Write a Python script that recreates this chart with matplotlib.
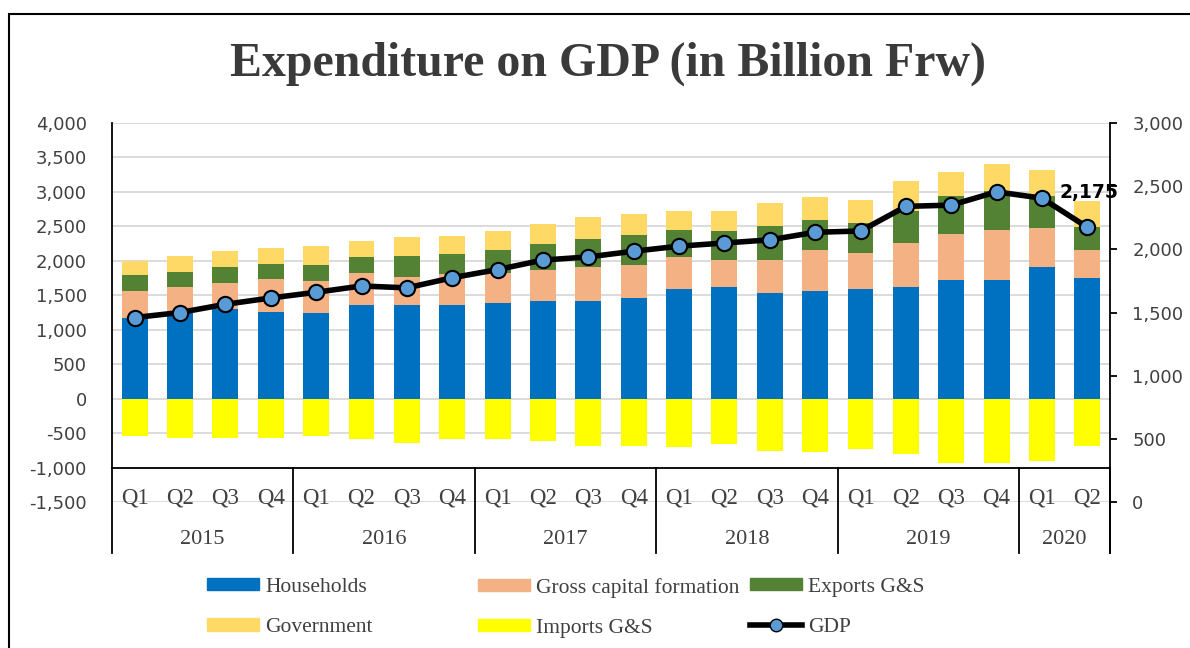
import numpy as np
import matplotlib.pyplot as plt
from matplotlib.patches import Patch, Rectangle
from matplotlib.lines import Line2D


# ========== data (billion Frw) ==========
years = ["2015", "2016", "2017", "2018", "2019", "2020"]
quarters_per_year = [4, 4, 4, 4, 4, 2]
quarters = ["Q1", "Q2", "Q3", "Q4"] * 5 + ["Q1", "Q2"]

households = [1177, 1241, 1303, 1264, 1250, 1366, 1361, 1361,
              1390, 1415, 1415, 1463, 1598, 1623, 1536, 1565,
              1595, 1623, 1725, 1725, 1913, 1754]
gross_capital = [388, 382, 374, 465, 460, 460, 407, 451,
                 426, 451, 498, 475, 451, 382, 479, 586,
                 512, 630, 663, 726, 567, 397]
exports = [222, 218, 227, 228, 233, 233, 301, 281,
           345, 382, 408, 441, 392, 422, 494, 446,
           440, 463, 557, 560, 460, 333]
government = [214, 232, 237, 233, 271, 232, 270, 271,
              271, 291, 310, 300, 289, 303, 330, 322,
              338, 441, 339, 389, 373, 384]
imports = [-538, -567, -567, -567, -547, -586, -644, -586,
           -586, -619, -683, -683, -697, -663, -756, -779,
           -731, -799, -930, -930, -910, -692]
gdp = [1460, 1500, 1565, 1615, 1660, 1710, 1695, 1775,
       1840, 1915, 1940, 1985, 2025, 2050, 2075, 2135,
       2145, 2340, 2350, 2455, 2405, 2175]

# colors
c_house = "#0070c0"
c_gcf = "#f4b183"
c_exp = "#548235"
c_gov = "#ffd966"
c_imp = "#ffff00"
c_gdp = "#5b9bd5"
txt = "#404040"


# ========== figure ==========
fig = plt.figure(figsize=(11.9, 6.48), dpi=100)
ax = fig.add_axes([112 / 1190, 1 - 502 / 648, 998 / 1190, 379 / 648])

x = np.arange(len(quarters))
w = 0.57

# stacked bars
b1 = np.array(households)
b2 = b1 + np.array(gross_capital)
b3 = b2 + np.array(exports)
ax.bar(x, households, w, color=c_house, zorder=2)
ax.bar(x, gross_capital, w, bottom=b1, color=c_gcf, zorder=2)
ax.bar(x, exports, w, bottom=b2, color=c_exp, zorder=2)
ax.bar(x, government, w, bottom=b3, color=c_gov, zorder=2)
ax.bar(x, imports, w, color=c_imp, zorder=2)

ax.set_xlim(-0.5, len(x) - 0.5)
ax.set_ylim(-1500, 4000)
ax.set_yticks(np.arange(-1500, 4001, 500))
ax.set_yticklabels([f"{v:,}" for v in range(-1500, 4001, 500)])
ax.tick_params(axis="y", length=0, pad=18, labelsize=13, labelcolor=txt)
ax.set_xticks([])
ax.grid(axis="y", color="#d9d9d9", lw=1.3, zorder=0)
ax.set_axisbelow(True)
for s in ax.spines.values():
    s.set_visible(False)

# category axis box (two-level labels under the -1000 line)
y_low = -2241
ax.plot([-0.5, len(x) - 0.5], [-1000, -1000], color="black", lw=1.3, clip_on=False, zorder=3)
ax.plot([-0.5, -0.5], [4000, y_low], color="black", lw=1.3, clip_on=False, zorder=3)
ax.plot([len(x) - 0.5, len(x) - 0.5], [4000, y_low], color="black", lw=1.3, clip_on=False, zorder=3)
start = 0
for yr, n in zip(years, quarters_per_year):
    end = start + n
    ax.plot([end - 0.5, end - 0.5], [-1000, y_low], color="black", lw=1.3, clip_on=False, zorder=3)
    ax.text((start + end - 1) / 2, -2050, yr, ha="center", va="center",
            family="Liberation Serif", fontsize=16, color=txt, clip_on=False)
    start = end
for i, q in enumerate(quarters):
    ax.text(i, -1440, q, ha="center", va="center", family="Liberation Serif",
            fontsize=16.5, color=txt, clip_on=False, zorder=4)

# GDP line on secondary axis
ax2 = ax.twinx()
ax2.plot(x, gdp, color="black", lw=4, marker="o", ms=11, mfc=c_gdp,
         mec="black", mew=1.5, zorder=5)
ax2.set_ylim(0, 3000)
ax2.set_yticks(np.arange(0, 3001, 500))
ax2.set_yticklabels([f"{v:,}" for v in range(0, 3001, 500)])
ax2.tick_params(axis="y", length=5, width=1.3, pad=11, labelsize=13, labelcolor=txt)
for s in ax2.spines.values():
    s.set_visible(False)
ax2.annotate(f"{gdp[-1]:,}", (x[-1], gdp[-1]), xytext=(1, 25), textcoords="offset points",
             ha="center", va="center", fontsize=13.5, fontweight="bold", color="black")

# title
fig.text(0.511, 1 - 64 / 648, "Expenditure on GDP (in Billion Frw)", ha="center", va="center",
         family="Liberation Serif", fontweight="bold", fontsize=34.5, color="#3a3a3a")

# legend: three columns, two rows
fs = 15.5
leg_cols = [
    (207, [Patch(color=c_house, label="Households"), Patch(color=c_gov, label="Government")]),
    (478, [Patch(color=c_gcf, label="Gross capital formation"), Patch(color=c_imp, label="Imports G&S")]),
    (750, [Patch(color=c_exp, label="Exports G&S"),
           Line2D([], [], color="black", lw=4, marker="o", ms=9, mfc=c_gdp, mec="black", label="GDP")]),
]
for px, hs in leg_cols:
    fig.legend(handles=hs, loc="upper left", bbox_to_anchor=(px / 1190, 1 - 578 / 648),
               frameon=False, borderpad=0, borderaxespad=0, handlelength=2.4,
               handleheight=0.5, handletextpad=0.3, labelspacing=0.98,
               prop={"family": "Liberation Serif", "size": fs}, labelcolor=txt)

# outer chart frame
fig.patches.append(Rectangle((9 / 1190, -0.1), 1.2, 1.1 - 14 / 648, transform=fig.transFigure,
                             fill=False, ec="black", lw=1.5))

fig.savefig("out.png", dpi=100)
